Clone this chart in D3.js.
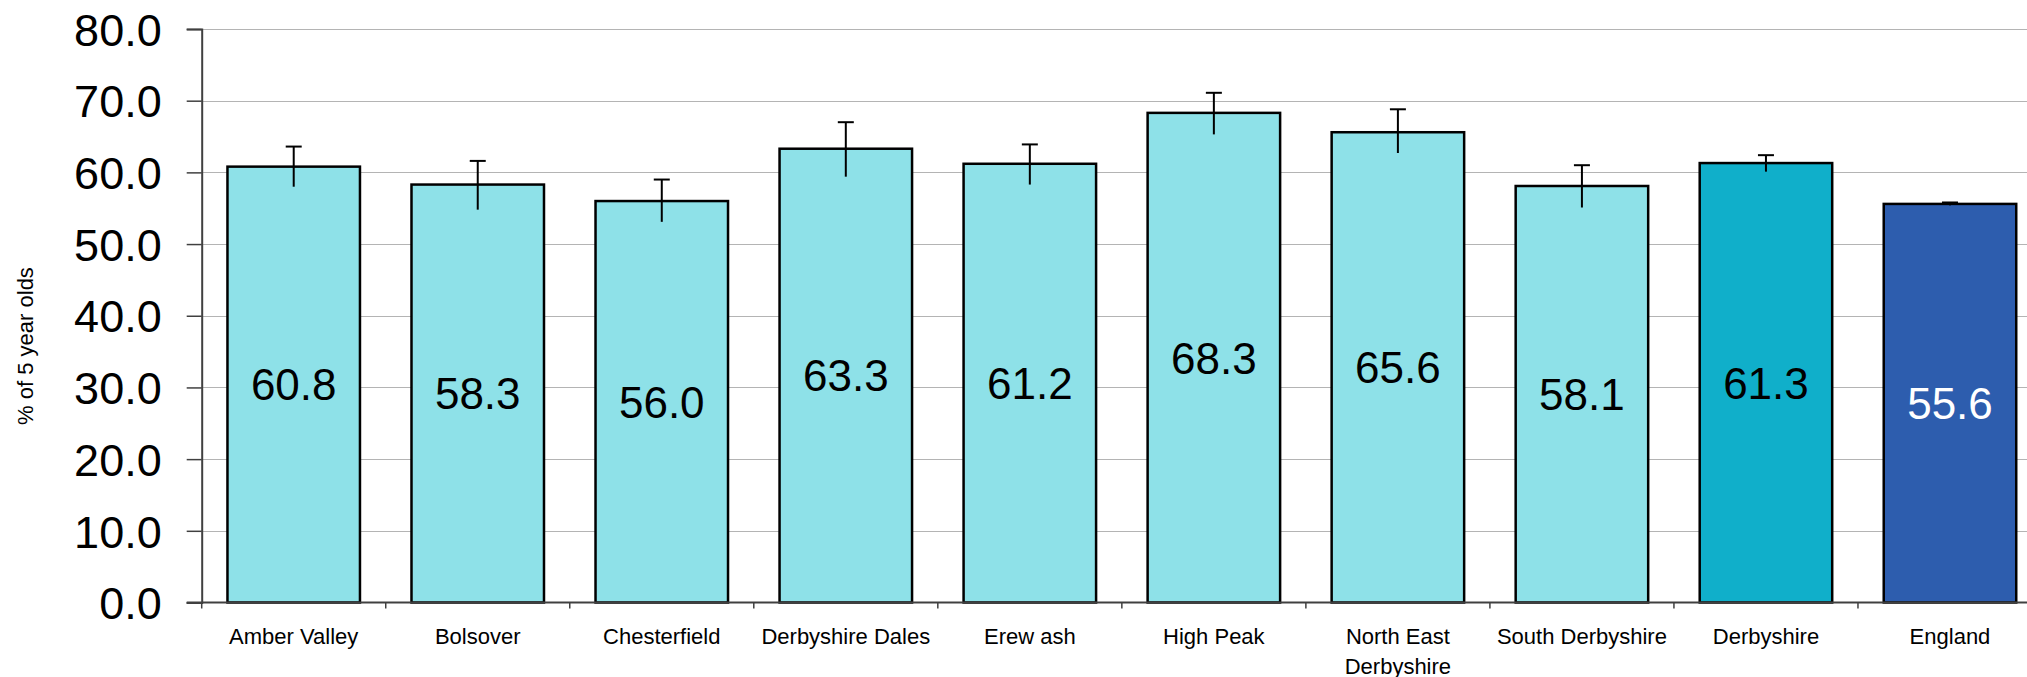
<!DOCTYPE html>
<html>
<head>
<meta charset="utf-8">
<script src="https://cdn.jsdelivr.net/npm/d3@7"></script>
<style>
  html, body { margin: 0; padding: 0; background: #ffffff; }
  svg { display: block; font-family: "Liberation Sans", Arial, sans-serif; }
</style>
</head>
<body>
<svg id="chart" width="2027" height="677"></svg>
<script>
const categories = ["Amber Valley", "Bolsover", "Chesterfield", "Derbyshire Dales", "Erew ash",
  "High Peak", "North East Derbyshire", "South Derbyshire", "Derbyshire", "England"];
const values = [60.8, 58.3, 56.0, 63.3, 61.2, 68.3, 65.6, 58.1, 61.3, 55.6];
const lowerCI = [58.0, 54.8, 53.1, 59.4, 58.3, 65.3, 62.7, 55.1, 60.1, 55.4];
const upperCI = [63.6, 61.6, 59.0, 67.0, 63.9, 71.1, 68.8, 61.0, 62.4, 55.8];
const barColors = ["#8ee1e8", "#8ee1e8", "#8ee1e8", "#8ee1e8", "#8ee1e8",
  "#8ee1e8", "#8ee1e8", "#8ee1e8", "#10afca", "#2d5dae"];
const labelColors = ["#000", "#000", "#000", "#000", "#000", "#000", "#000", "#000", "#000", "#fff"];
const yTicks = [0, 10, 20, 30, 40, 50, 60, 70, 80];
const yTitle = "% of 5 year olds";

(function () {
const svg = d3.select("#chart");
const pLeft = 201.7, pRight = 2042, pTop = 29, pBottom = 602.5;

const x = d3.scaleBand().domain(categories).range([pLeft, pRight])
  .paddingInner(0.28).paddingOuter(0.14);
const y = d3.scaleLinear().domain([0, 80]).range([pBottom, pTop]);
const step = x.step();

// gridlines
svg.append("g").selectAll("line").data(yTicks.filter(t => t > 0)).join("line")
  .attr("x1", pLeft).attr("x2", 2027)
  .attr("y1", d => Math.round(y(d)) + 0.5).attr("y2", d => Math.round(y(d)) + 0.5)
  .attr("stroke", "#b4b4b4").attr("stroke-width", 1);

// bars
svg.append("g").selectAll("rect").data(categories).join("rect")
  .attr("x", d => x(d)).attr("width", x.bandwidth())
  .attr("y", (d, i) => y(values[i])).attr("height", (d, i) => pBottom - y(values[i]))
  .attr("fill", (d, i) => barColors[i])
  .attr("stroke", "#000").attr("stroke-width", 2.5);

// error bars
const eb = svg.append("g").attr("stroke", "#000").attr("stroke-width", 2);
categories.forEach((c, i) => {
  const cx = x(c) + x.bandwidth() / 2;
  eb.append("line").attr("x1", cx).attr("x2", cx)
    .attr("y1", y(lowerCI[i])).attr("y2", y(upperCI[i]));
  eb.append("line").attr("x1", cx - 8).attr("x2", cx + 8)
    .attr("y1", y(upperCI[i])).attr("y2", y(upperCI[i]));
});

// value labels
svg.append("g").selectAll("text").data(categories).join("text")
  .attr("x", d => x(d) + x.bandwidth() / 2)
  .attr("y", (d, i) => y(values[i] / 2))
  .attr("dy", "0.36em")
  .attr("text-anchor", "middle")
  .attr("font-size", 44)
  .attr("fill", (d, i) => labelColors[i])
  .text((d, i) => values[i].toFixed(1));

// y axis
const yAxis = d3.axisLeft(y).tickValues(yTicks).tickFormat(d3.format(".1f"))
  .tickSize(15).tickPadding(25);
const gy = svg.append("g").attr("transform", `translate(${pLeft},0)`).call(yAxis);
gy.select(".domain").attr("stroke", "#404040").attr("stroke-width", 2);
gy.selectAll(".tick line").attr("stroke", "#404040").attr("stroke-width", 1.5);
gy.selectAll(".tick text").attr("font-size", 45).attr("fill", "#000")
  .attr("font-family", "'Liberation Sans', Arial, sans-serif").attr("dy", "0.36em");

// x axis
const xTickScale = d3.scaleLinear().domain([0, categories.length]).range([pLeft, pLeft + step * categories.length]);
const gx = svg.append("g").attr("transform", `translate(0,${pBottom})`);
gx.append("line").attr("x1", pLeft - 15).attr("x2", 2027).attr("y1", 0).attr("y2", 0)
  .attr("stroke", "#404040").attr("stroke-width", 2);
gx.selectAll("line.tk").data(d3.range(0, categories.length + 1)).join("line")
  .attr("class", "tk")
  .attr("x1", d => xTickScale(d)).attr("x2", d => xTickScale(d))
  .attr("y1", 0).attr("y2", 6).attr("stroke", "#404040").attr("stroke-width", 1.5);

const catText = gx.selectAll("text.cat").data(categories).join("text")
  .attr("class", "cat")
  .attr("x", d => x(d) + x.bandwidth() / 2)
  .attr("y", 41)
  .attr("text-anchor", "middle")
  .attr("font-size", 22)
  .attr("fill", "#000");
catText.each(function(d) {
  const t = d3.select(this);
  const words = d.split(" ");
  const maxW = step * 0.96;
  let lines = [], cur = [];
  const probe = t.append("tspan");
  words.forEach(w => {
    const test = cur.concat([w]).join(" ");
    probe.text(test);
    if (probe.node().getComputedTextLength() > maxW && cur.length) {
      lines.push(cur.join(" "));
      cur = [w];
    } else cur.push(w);
  });
  lines.push(cur.join(" "));
  probe.remove();
  lines.forEach((ln, k) => {
    t.append("tspan").attr("x", x(d) + x.bandwidth() / 2).attr("dy", k === 0 ? 0 : 30).text(ln);
  });
});

// y title
svg.append("text")
  .attr("transform", "translate(33,346) rotate(-90)")
  .attr("text-anchor", "middle")
  .attr("font-size", 22)
  .attr("fill", "#000")
  .text(yTitle);
})();
</script>
</body>
</html>
